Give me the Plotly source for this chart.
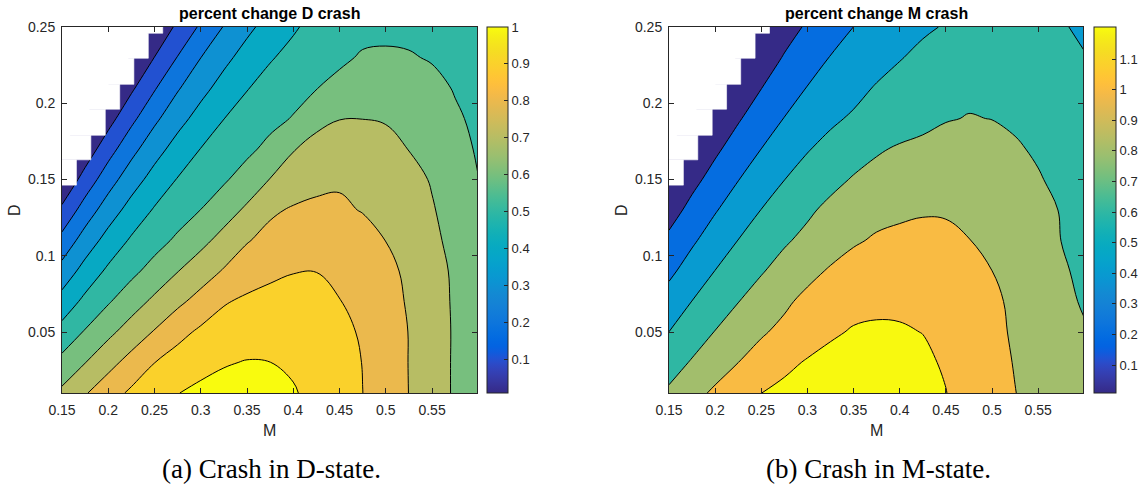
import plotly.graph_objects as go

# ---------------- data ----------------
M_values = [0.15, 0.175, 0.2, 0.225, 0.25, 0.275, 0.3, 0.325, 0.35, 0.375,
            0.4, 0.425, 0.45, 0.475, 0.5, 0.525, 0.55, 0.575, 0.6]
D_values = [0.01, 0.03, 0.05, 0.07, 0.09, 0.11, 0.13, 0.15, 0.17, 0.19, 0.21, 0.23, 0.25]

# rows = D_values (bottom -> top), columns = M_values
pct_change_D_crash = [
    [0.721, 0.792, 0.858, 0.917, 0.960, 0.998, 1.019, 1.030, 1.033, 1.024, 1.007, 0.975, 0.940, 0.9005, 0.850, 0.799, 0.744, 0.689, 0.640],
    [0.628, 0.698, 0.7685, 0.835, 0.899, 0.942, 0.973, 0.9936, 1.004, 1.0005, 0.9874, 0.9666, 0.937, 0.898, 0.848, 0.798, 0.744, 0.689, 0.637],
    [0.536, 0.608, 0.677, 0.743, 0.807, 0.870, 0.917, 0.943, 0.959, 0.965, 0.961, 0.947, 0.923, 0.890, 0.843, 0.798, 0.743, 0.690, 0.634],
    [0.439, 0.524, 0.591, 0.657, 0.720, 0.779, 0.835, 0.892, 0.917, 0.928, 0.929, 0.921, 0.902, 0.867, 0.831, 0.792, 0.740, 0.688, 0.630],
    [0.337, 0.437, 0.518, 0.576, 0.636, 0.697, 0.752, 0.808, 0.851, 0.881, 0.897, 0.899, 0.888, 0.864, 0.827, 0.780, 0.733, 0.686, 0.625],
    [0.232, 0.344, 0.437, 0.513, 0.564, 0.617, 0.674, 0.732, 0.794, 0.829, 0.851, 0.858, 0.852, 0.832, 0.799, 0.760, 0.7205, 0.673, 0.618],
    [0.119, 0.245, 0.350, 0.437, 0.509, 0.555, 0.601, 0.658, 0.716, 0.785, 0.810, 0.817, 0.813, 0.796, 0.768, 0.737, 0.707, 0.662, 0.610],
    [0.013, 0.139, 0.257, 0.356, 0.437, 0.505, 0.546, 0.588, 0.643, 0.703, 0.745, 0.778, 0.790, 0.780, 0.758, 0.730, 0.693, 0.650, 0.601],
    [-0.08, 0.040, 0.159, 0.269, 0.362, 0.438, 0.502, 0.540, 0.578, 0.627, 0.695, 0.732, 0.740, 0.740, 0.728, 0.698, 0.662, 0.627, 0.592],
    [None, -0.05, 0.062, 0.175, 0.279, 0.366, 0.436, 0.499, 0.535, 0.571, 0.606, 0.673, 0.698, 0.699, 0.693, 0.675, 0.650, 0.612, 0.582],
    [None, None, -0.025, 0.083, 0.191, 0.290, 0.370, 0.436, 0.496, 0.531, 0.564, 0.597, 0.628, 0.650, 0.658, 0.650, 0.625, 0.594, 0.572],
    [None, None, None, 0.000, 0.1015, 0.204, 0.299, 0.375, 0.437, 0.493, 0.525, 0.553, 0.582, 0.610, 0.612, 0.607, 0.593, 0.578, 0.562],
    [None, None, None, None, 0.020, 0.119, 0.215, 0.305, 0.378, 0.437, 0.490, 0.527, 0.553, 0.572, 0.580, 0.578, 0.572, 0.563, 0.552],
]

pct_change_M_crash = [
    [0.831, 0.936, 1.033, 1.116, 1.199, 1.247, 1.2815, 1.3026, 1.310, 1.3038, 1.284, 1.250, 1.203, 1.137, 1.070, 1.003, 0.945, 0.888, 0.830],
    [0.716, 0.817, 0.908, 0.9995, 1.078, 1.156, 1.216, 1.243, 1.258, 1.259, 1.247, 1.223, 1.186, 1.116, 1.054, 0.992, 0.934, 0.877, 0.820],
    [0.601, 0.704, 0.806, 0.892, 0.979, 1.047, 1.108, 1.180, 1.212, 1.215, 1.211, 1.198, 1.138, 1.087, 1.036, 0.982, 0.924, 0.865, 0.807],
    [0.480, 0.603, 0.699, 0.796, 0.881, 0.967, 1.049, 1.1135, 1.1565, 1.1776, 1.178, 1.163, 1.134, 1.090, 1.033, 0.967, 0.895, 0.820, 0.792],
    [0.359, 0.483, 0.603, 0.694, 0.786, 0.867, 0.946, 1.020, 1.0695, 1.099, 1.110, 1.1035, 1.083, 1.048, 1.0005, 0.938, 0.877, 0.815, 0.775],
    [0.241, 0.373, 0.490, 0.603, 0.691, 0.778, 0.847, 0.911, 0.980, 1.020, 1.030, 1.035, 1.030, 1.003, 0.956, 0.904, 0.852, 0.7992, 0.755],
    [0.120, 0.256, 0.386, 0.496, 0.603, 0.686, 0.769, 0.845, 0.904, 0.948, 0.976, 0.989, 0.987, 0.972, 0.944, 0.9025, 0.848, 0.792, 0.735],
    [0.020, 0.146, 0.270, 0.395, 0.497, 0.598, 0.672, 0.747, 0.815, 0.860, 0.891, 0.9094, 0.915, 0.908, 0.889, 0.857, 0.8128, 0.760, 0.715],
    [-0.07, 0.048, 0.166, 0.284, 0.401, 0.496, 0.589, 0.655, 0.718, 0.780, 0.820, 0.8415, 0.853, 0.856, 0.843, 0.818, 0.779, 0.737, 0.695],
    [None, -0.04, 0.069, 0.182, 0.295, 0.405, 0.486, 0.568, 0.624, 0.667, 0.710, 0.752, 0.792, 0.805, 0.798, 0.775, 0.745, 0.710, 0.672],
    [None, None, -0.02, 0.089, 0.197, 0.305, 0.407, 0.476, 0.545, 0.615, 0.681, 0.7296, 0.759, 0.775, 0.770, 0.752, 0.728, 0.694, 0.650],
    [None, None, None, 0.010, 0.111, 0.212, 0.311, 0.407, 0.467, 0.528, 0.588, 0.653, 0.697, 0.718, 0.7156, 0.706, 0.683, 0.650, 0.605],
    [None, None, None, None, 0.043, 0.132, 0.221, 0.310, 0.401, 0.455, 0.510, 0.566, 0.616, 0.648, 0.6635, 0.662, 0.644, 0.609, 0.582],
]

# region where the model has no value (white staircase, top-left)
nan_M_edges = [0.15, 0.1656, 0.1812, 0.1968, 0.2124, 0.2277, 0.2433, 0.2589]
nan_D_edges = [0.1463, 0.1629, 0.1790, 0.1961, 0.2124, 0.2295, 0.2459, 0.25]
nan_cols_per_band = [1, 2, 3, 4, 5, 6, 7]

# contour levels and colour limits
levels_D = dict(start=0.1, end=1.0, size=0.1)
levels_M = dict(start=0.2, end=1.2, size=0.2)
clim_D = (0.009, 1.0)
clim_M = (0.0085, 1.205)

x_ticks = [0.15, 0.2, 0.25, 0.3, 0.35, 0.4, 0.45, 0.5, 0.55]
x_ticktext = ["0.15", "0.2", "0.25", "0.3", "0.35", "0.4", "0.45", "0.5", "0.55"]
y_ticks = [0.05, 0.1, 0.15, 0.2, 0.25]
y_ticktext = ["0.05", "0.1", "0.15", "0.2", "0.25"]
cb_ticks_D = [0.1, 0.2, 0.3, 0.4, 0.5, 0.6, 0.7, 0.8, 0.9, 1.0]
cb_text_D = ["0.1", "0.2", "0.3", "0.4", "0.5", "0.6", "0.7", "0.8", "0.9", "1"]
cb_ticks_M = [0.1, 0.2, 0.3, 0.4, 0.5, 0.6, 0.7, 0.8, 0.9, 1.0, 1.1]
cb_text_M = ["0.1", "0.2", "0.3", "0.4", "0.5", "0.6", "0.7", "0.8", "0.9", "1", "1.1"]

titles = ["percent change D crash", "percent change M crash"]
captions = ["(a) Crash in D-state.", "(b) Crash in M-state."]

# ---------------- styling ----------------
PARULA = [
    (0.2081, 0.1663, 0.5292), (0.2116, 0.1898, 0.5777), (0.2123, 0.2138, 0.6270), (0.2081, 0.2386, 0.6771),
    (0.1959, 0.2645, 0.7279), (0.1707, 0.2919, 0.7792), (0.1253, 0.3242, 0.8303), (0.0591, 0.3598, 0.8683),
    (0.0117, 0.3875, 0.8820), (0.0060, 0.4086, 0.8828), (0.0165, 0.4266, 0.8786), (0.0329, 0.4430, 0.8720),
    (0.0498, 0.4586, 0.8641), (0.0629, 0.4737, 0.8554), (0.0723, 0.4887, 0.8467), (0.0779, 0.5040, 0.8384),
    (0.0793, 0.5200, 0.8312), (0.0749, 0.5375, 0.8263), (0.0641, 0.5570, 0.8240), (0.0488, 0.5772, 0.8228),
    (0.0343, 0.5966, 0.8199), (0.0265, 0.6137, 0.8135), (0.0239, 0.6287, 0.8038), (0.0231, 0.6418, 0.7913),
    (0.0228, 0.6535, 0.7768), (0.0267, 0.6642, 0.7607), (0.0384, 0.6743, 0.7436), (0.0590, 0.6838, 0.7254),
    (0.0843, 0.6928, 0.7062), (0.1133, 0.7015, 0.6859), (0.1453, 0.7098, 0.6646), (0.1801, 0.7177, 0.6424),
    (0.2178, 0.7250, 0.6193), (0.2586, 0.7317, 0.5954), (0.3022, 0.7376, 0.5712), (0.3482, 0.7424, 0.5473),
    (0.3953, 0.7459, 0.5244), (0.4420, 0.7481, 0.5033), (0.4871, 0.7491, 0.4840), (0.5300, 0.7491, 0.4661),
    (0.5709, 0.7485, 0.4494), (0.6099, 0.7473, 0.4337), (0.6473, 0.7456, 0.4188), (0.6834, 0.7435, 0.4044),
    (0.7184, 0.7411, 0.3905), (0.7525, 0.7384, 0.3768), (0.7858, 0.7356, 0.3633), (0.8185, 0.7327, 0.3498),
    (0.8507, 0.7299, 0.3360), (0.8824, 0.7274, 0.3217), (0.9139, 0.7258, 0.3063), (0.9450, 0.7261, 0.2886),
    (0.9739, 0.7314, 0.2666), (0.9938, 0.7455, 0.2403), (0.9990, 0.7653, 0.2164), (0.9955, 0.7861, 0.1967),
    (0.9880, 0.8066, 0.1794), (0.9789, 0.8271, 0.1633), (0.9697, 0.8481, 0.1475), (0.9626, 0.8705, 0.1309),
    (0.9589, 0.8949, 0.1132), (0.9598, 0.9218, 0.0948), (0.9661, 0.9514, 0.0755), (0.9763, 0.9831, 0.0538),
]


def parula(t):
    t = min(max(t, 0.0), 1.0)
    f = t * (len(PARULA) - 1)
    i = int(f)
    if i >= len(PARULA) - 1:
        c = PARULA[-1]
    else:
        a = f - i
        c0, c1 = PARULA[i], PARULA[i + 1]
        c = tuple(c0[k] + (c1[k] - c0[k]) * a for k in range(3))
    return "rgb(%d,%d,%d)" % tuple(round(255 * v) for v in c)


PARULA_SCALE = [[i / 63.0, parula(i / 63.0)] for i in range(64)]


def band_scale(lv, clim):
    """Stepped colorscale: every filled band gets the parula colour of its lower level
    (MATLAB contourf convention); region below the first level gets the bottom colour."""
    start, end, size = lv["start"], lv["end"], lv["size"]
    nc = int(round((end - start) / size)) + 1
    cmin, cmax = clim
    cols = [parula(0)] + [parula((start + i * size - cmin) / (cmax - cmin)) for i in range(nc)]
    eps = 1e-4
    stops = [[0.0, cols[0]]]
    for i in range(1, nc):
        s = i / nc
        stops.append([s - eps, cols[i - 1]])
        stops.append([s, cols[i]])
    stops.append([1.0 - eps, cols[nc - 1]])
    stops.append([1.0, cols[nc]])
    return stops


W, H = 1143, 493


def px(xpix):
    return xpix / W


def py(ypix):
    return 1 - ypix / H


AX = "#262626"
SANS = "Liberation Sans, Arial, Helvetica, sans-serif"
SERIF = "Liberation Serif, Times New Roman, serif"

plot_left = [62, 669]
plot_right = [477, 1083]
plot_top, plot_bottom = 27, 393
cb_left = [487, 1094]
cb_width = [21, 22]

fig = go.Figure()

panels = [
    (pct_change_D_crash, levels_D, clim_D, cb_ticks_D, cb_text_D),
    (pct_change_M_crash, levels_M, clim_M, cb_ticks_M, cb_text_M),
]

mask_y = [(nan_D_edges[i] + nan_D_edges[i + 1]) / 2 for i in range(len(nan_D_edges) - 1)]
mask_h = [nan_D_edges[i + 1] - nan_D_edges[i] for i in range(len(nan_D_edges) - 1)]
mask_base = 0.14
mask_len = [nan_M_edges[c] - mask_base for c in nan_cols_per_band]

for k, (z, lv, clim, cbt, cbtt) in enumerate(panels):
    xa = "x" if k == 0 else "x2"
    ya = "y" if k == 0 else "y2"
    fig.add_trace(go.Contour(
        x=M_values, y=D_values, z=z, xaxis=xa, yaxis=ya,
        autocontour=False,
        contours=dict(start=lv["start"], end=lv["end"], size=lv["size"],
                      coloring="fill", showlines=True),
        line=dict(color="black", width=1, smoothing=1.1),
        colorscale=band_scale(lv, clim), showscale=False, hoverinfo="skip",
    ))
    # white staircase where the model gives no value
    fig.add_trace(go.Bar(
        orientation="h", y=mask_y, x=mask_len, base=[mask_base] * len(mask_y), width=mask_h,
        xaxis=xa, yaxis=ya, marker=dict(color="white", line=dict(color="white", width=0.6)),
        showlegend=False, hoverinfo="skip",
    ))
    fig.add_trace(go.Scatter(
        x=[None], y=[None], mode="markers", xaxis=xa, yaxis=ya, showlegend=False,
        hoverinfo="skip",
        marker=dict(color=[clim[0]], colorscale=PARULA_SCALE, cmin=clim[0], cmax=clim[1],
                    showscale=True,
                    colorbar=dict(
                        x=px(cb_left[k]), xanchor="left", xpad=0, ypad=0,
                        y=py((plot_top + plot_bottom) / 2), yanchor="middle",
                        len=(plot_bottom - plot_top) / H, lenmode="fraction",
                        thickness=cb_width[k], thicknessmode="pixels",
                        outlinewidth=1, outlinecolor=AX,
                        ticks="inside", ticklen=4, tickcolor=AX, tickwidth=1,
                        tickvals=cbt, ticktext=cbtt,
                        tickfont=dict(family=SANS, size=13, color=AX),
                    )),
    ))

axis_common = dict(showgrid=False, zeroline=False, showline=True, linecolor=AX, linewidth=1,
                   mirror="ticks", ticks="inside", ticklen=5, tickcolor=AX, tickwidth=1,
                   tickfont=dict(family=SANS, size=14, color=AX))

for k in range(2):
    sx = "" if k == 0 else "2"
    fig.update_layout(**{
        "xaxis" + sx: dict(axis_common, domain=[px(plot_left[k]), px(plot_right[k])],
                           range=[0.15, 0.5986], tickvals=x_ticks, ticktext=x_ticktext,
                           ticklabelstandoff=4, anchor="y" + sx),
        "yaxis" + sx: dict(axis_common, domain=[py(plot_bottom), py(plot_top)],
                           range=[0.01, 0.25], tickvals=y_ticks, ticktext=y_ticktext,
                           ticklabelstandoff=3, anchor="x" + sx),
    })

annotations = []
for k in range(2):
    cx = (plot_left[k] + plot_right[k]) / 2
    annotations.append(dict(text="<b>%s</b>" % titles[k], x=px(cx), y=py(13),
                            xref="paper", yref="paper", showarrow=False,
                            xanchor="center", yanchor="middle",
                            font=dict(family=SANS, size=16, color="black")))
    annotations.append(dict(text="M", x=px(cx), y=py(430), xref="paper", yref="paper",
                            showarrow=False, xanchor="center", yanchor="middle",
                            font=dict(family=SANS, size=16, color=AX)))
    annotations.append(dict(text="D", x=px(plot_left[k] - 48), y=py(210),
                            xref="paper", yref="paper", showarrow=False, textangle=-90,
                            xanchor="center", yanchor="middle",
                            font=dict(family=SANS, size=16, color=AX)))
    annotations.append(dict(text=captions[k], x=px(cx + 2), y=py(469),
                            xref="paper", yref="paper", showarrow=False,
                            xanchor="center", yanchor="middle",
                            font=dict(family=SERIF, size=27, color="black")))

fig.update_layout(width=W, height=H,
                  margin=dict(l=0, r=0, t=0, b=0, pad=0, autoexpand=False),
                  paper_bgcolor="white", plot_bgcolor="white", barmode="overlay",
                  showlegend=False, annotations=annotations)

# the page's default 8px body margin would shift the figure; remove it
fig.write_html("out.html", config=dict(displayModeBar=False),
               post_script="document.body.style.margin='0px';")
